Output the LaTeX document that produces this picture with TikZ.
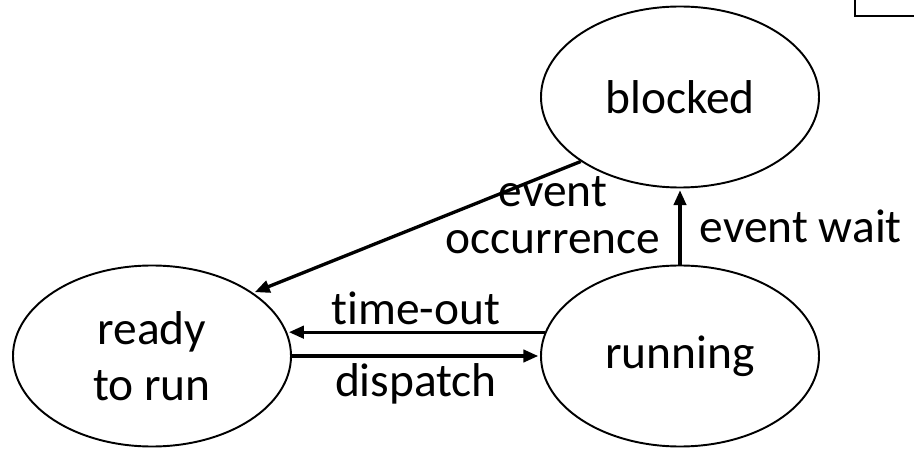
\documentclass[tikz,border=0pt]{standalone}
\usepackage{fontspec}
\setmainfont[Ligatures=NoCommon]{Carlito}
\usetikzlibrary{shapes.geometric,arrows.meta}
\def\statesep{10.56cm}

\begin{document}
\begin{tikzpicture}[shorten >=1pt, node distance=\statesep, font=\fontsize{27}{28}\selectfont]
    \tikzstyle{process}=[ellipse, draw=black, line width=1.1pt, fill=white, minimum width=5.56cm, minimum height=3.62cm, inner sep=0pt, align=center]
    \tikzstyle{trans}=[-{Triangle[length=8.5pt,width=7pt]}, line width=1.9pt]
    \useasboundingbox (-3.04,-1.86) rectangle (15.24,7.12);

    % the three states
    \node[process] (ready) {ready\\[4pt]to run};
    \node[process, right of=ready] (running) {running};
    \node[process, above of=running, node distance=5.18cm] (blocked) {blocked};

    % box cut off at the top right
    \draw[line width=1.4pt] (14.06,7.6) |- (15.6,6.8);

    % transitions
    \draw[trans] (running.170) -- node[above] (timeout) {time-out} (ready.10);
    \draw[trans] (ready.east) -- node[below] (dispatch) {dispatch} (running.west);
    \draw[trans] (running.north) -- node[right=7pt] (wait) {event wait} (blocked.south);
    \draw[trans] (blocked.213) -- (ready.32);
    \node[align=center, font=\fontsize{27}{26.7}\selectfont] (occur) at (8.02,2.82) {event\\occurrence};

\end{tikzpicture}
\end{document}
